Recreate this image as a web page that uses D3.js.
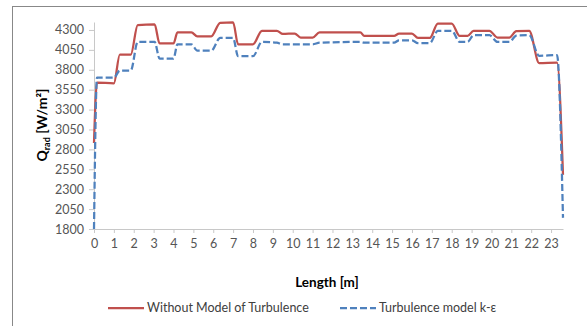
<!DOCTYPE html>
<html>
<head>
<meta charset="utf-8">
<script src="https://cdn.jsdelivr.net/npm/d3@7"></script>
<style>
  body { margin: 0; background: #fff; }
  text { font-family: Lato, "Open Sans", sans-serif; }
</style>
</head>
<body>
<div id="chart"></div>
<script>
// values
var lengths = [0, 0.15, 1.0, 1.3, 1.85, 2.2, 3.05, 3.3, 4.0, 4.2, 4.9, 5.2, 5.9, 6.35, 7.0, 7.25, 8.0, 8.45, 9.2, 9.5,
  10.1, 10.4, 11.0, 11.35, 13.4, 13.6, 15.1, 15.35, 16.0, 16.3, 16.9, 17.3, 18.0, 18.4, 18.8, 19.1, 19.9, 20.3, 20.9,
  21.25, 21.9, 22.4, 23.3, 23.6];

var withoutModel = [2880, 3640, 3630, 3990, 3990, 4360, 4370, 4130, 4130, 4270, 4270, 4220, 4220, 4390, 4395, 4120, 4120,
  4290, 4290, 4250, 4255, 4205, 4205, 4270, 4270, 4225, 4225, 4255, 4255, 4200, 4200, 4380, 4380, 4225, 4225, 4290, 4290,
  4205, 4205, 4285, 4290, 3885, 3890, 2480];

var kEpsilon = [1800, 3700, 3700, 3790, 3790, 4150, 4150, 3940, 3940, 4120, 4120, 4040, 4040, 4200, 4200, 3970, 3970,
  4150, 4140, 4120, 4120, 4120, 4120, 4140, 4150, 4140, 4140, 4170, 4170, 4135, 4135, 4290, 4290, 4150, 4150, 4235, 4235,
  4150, 4150, 4230, 4235, 3975, 3985, 1940];

var xTicks = d3.range(0, 24);
var yTicks = [1800, 2050, 2300, 2550, 2800, 3050, 3300, 3550, 3800, 4050, 4300];

var series = [
  {name: "Without Model of Turbulence", values: withoutModel, color: "#c0504d", dash: null},
  {name: "Turbulence model k-\u03b5", values: kEpsilon, color: "#4f81bd", dash: "7,3"}
];

var width = 587, height = 326;

var svg = d3.select("#chart").append("svg")
    .attr("width", width)
    .attr("height", height);

// outer frame of the chart area
svg.append("rect")
    .attr("x", 12.5).attr("y", 6.5)
    .attr("width", 600).attr("height", 340)
    .attr("fill", "#fff")
    .attr("stroke", "#888");

var x = d3.scaleLinear().domain([0, 23.6]).range([94, 563]);
var y = d3.scaleLinear().domain([1800, 4400]).range([229, 22]);

// axes
var xAxis = svg.append("g")
    .attr("transform", "translate(0," + y(1800) + ")")
    .call(d3.axisBottom(x).tickValues(xTicks).tickSize(4).tickPadding(6).tickSizeOuter(0));

var yAxis = svg.append("g")
    .attr("transform", "translate(" + x(0) + ",0)")
    .call(d3.axisLeft(y).tickValues(yTicks).tickFormat(d3.format("d"))
      .tickSize(5).tickPadding(5).tickSizeOuter(0));

[xAxis, yAxis].forEach(function(a) {
  a.select(".domain").attr("stroke", "#c8c8c8");
  a.selectAll(".tick line").attr("stroke", "#c8c8c8");
  a.selectAll(".tick text")
      .attr("fill", "#555")
      .style("font-size", "12.5px")
      .style("font-family", "Lato, sans-serif");
});

// lines
var line = d3.line()
    .curve(d3.curveMonotoneX)
    .x(function(d) { return x(d[0]); })
    .y(function(d) { return y(d[1]); });

series.forEach(function(s) {
  svg.append("path")
      .datum(lengths.map(function(l, i) { return [l, s.values[i]]; }))
      .attr("fill", "none")
      .attr("stroke", s.color)
      .attr("stroke-width", 2.25)
      .attr("stroke-dasharray", s.dash)
      .attr("d", line);
});

// axis titles
svg.append("text")
    .attr("x", 327).attr("y", 287)
    .attr("text-anchor", "middle")
    .style("font-size", "13.5px")
    .style("font-weight", "bold")
    .attr("fill", "#000")
    .text("Length [m]");

var yt = svg.append("text")
    .attr("transform", "translate(47,125) rotate(-90)")
    .attr("text-anchor", "middle")
    .style("font-size", "14px")
    .style("font-weight", "bold")
    .attr("fill", "#000");
yt.append("tspan").text("Q");
yt.append("tspan").attr("dy", 3).style("font-size", "9px").text("rad");
yt.append("tspan").attr("dy", -3).text(" [W/m\u00b2]");

// legend
var legendX = [108, 340];
series.forEach(function(s, i) {
  svg.append("line")
      .attr("x1", legendX[i]).attr("x2", legendX[i] + 36)
      .attr("y1", 308).attr("y2", 308)
      .attr("stroke", s.color)
      .attr("stroke-width", 2.25)
      .attr("stroke-dasharray", s.dash);
  svg.append("text")
      .attr("x", legendX[i] + 39).attr("y", 312)
      .style("font-size", "12.5px")
      .attr("fill", "#404040")
      .text(s.name);
});
</script>
</body>
</html>
